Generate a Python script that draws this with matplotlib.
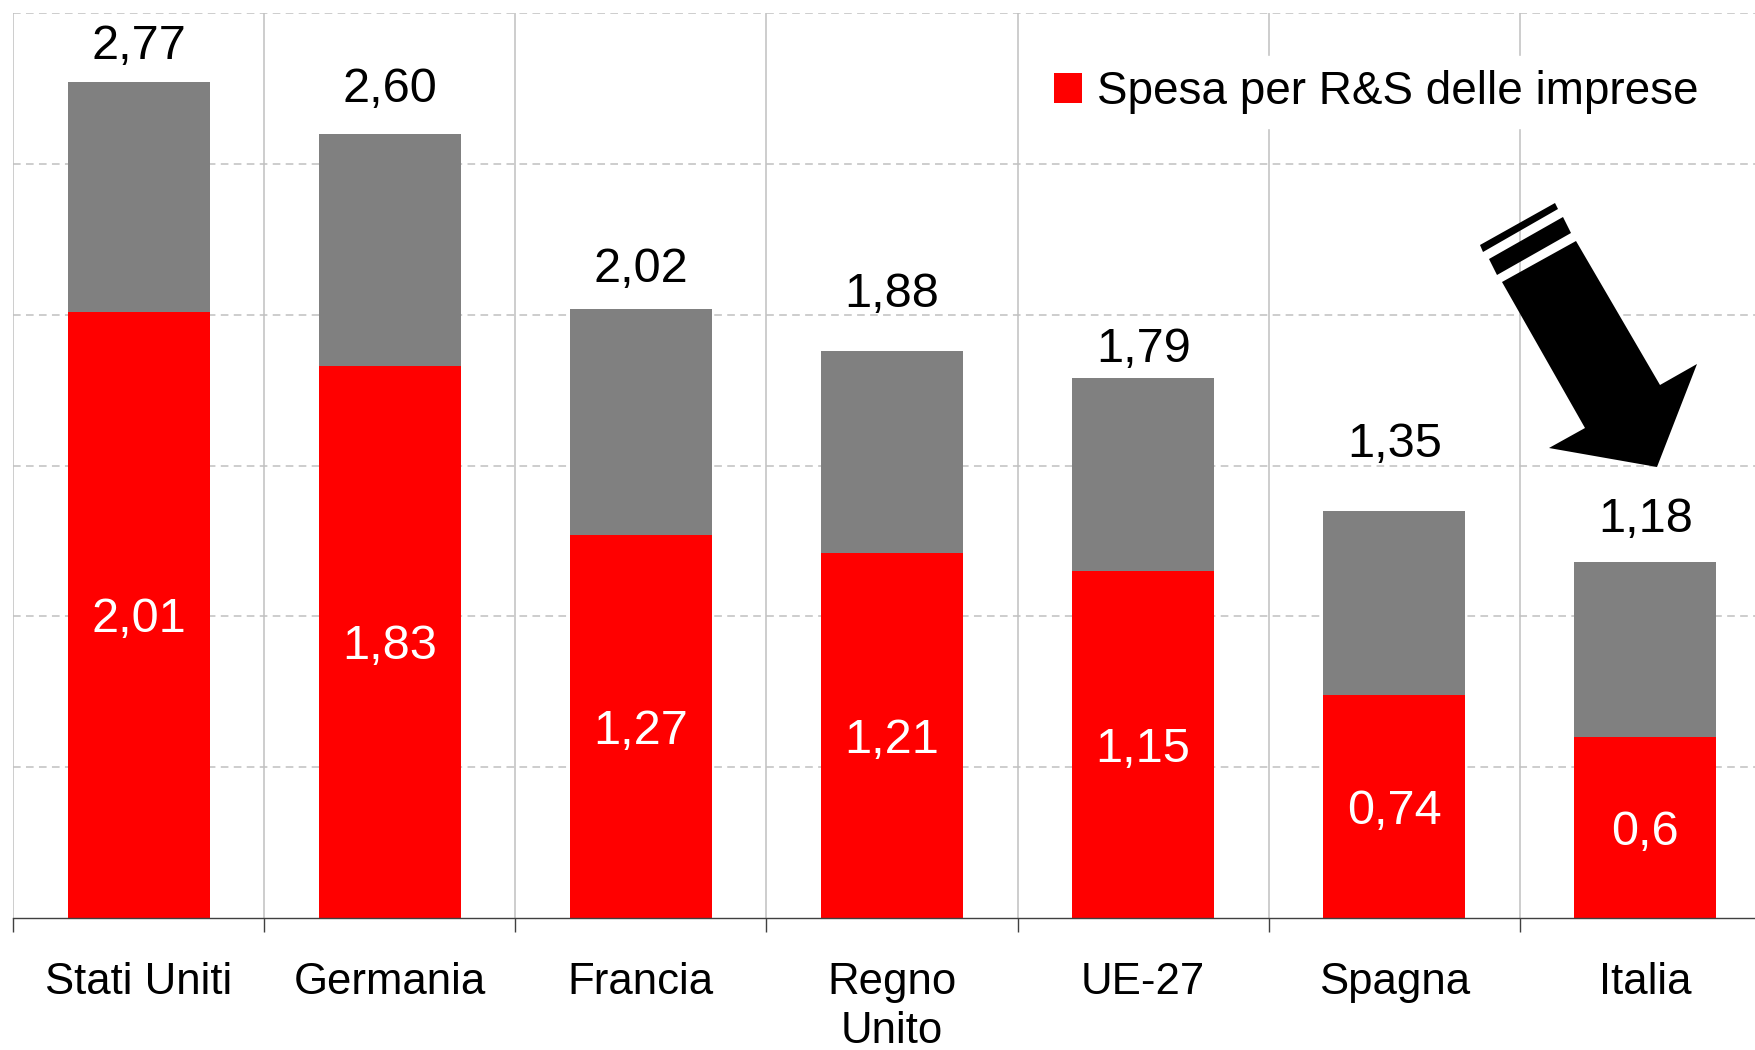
import numpy as np
import matplotlib
matplotlib.use("Agg")
import matplotlib.pyplot as plt
from matplotlib import transforms
from matplotlib.patches import Polygon

plt.rcParams['font.family'] = ['Liberation Sans', 'DejaVu Sans']

paesi = ['Stati Uniti', 'Germania', 'Francia', 'Regno\nUnito', 'UE-27', 'Spagna', 'Italia']
totale = [2.77, 2.60, 2.02, 1.88, 1.79, 1.35, 1.18]
imprese = [2.01, 1.83, 1.27, 1.21, 1.15, 0.74, 0.60]
lab_totale = ['2,77', '2,60', '2,02', '1,88', '1,79', '1,35', '1,18']
lab_imprese = ['2,01', '1,83', '1,27', '1,21', '1,15', '0,74', '0,6']

# how far above each bar the total label sits (layout only)
lift = [0.118, 0.147, 0.130, 0.188, 0.096, 0.220, 0.141]

W, H = 1756, 1050
fig = plt.figure(figsize=(W / 100, H / 100), dpi=100)
ax = fig.add_axes([13 / W, (H - 918) / H, 1758 / W, 905 / H])

x = np.arange(len(paesi))
altro = np.array(totale) - np.array(imprese)
ax.bar(x, imprese, width=0.565, color='#ff0000', label='Spesa per R&S delle imprese', zorder=2)
ax.bar(x, altro, bottom=imprese, width=0.565, color='#808080', zorder=2)

for i in range(len(paesi)):
    ax.text(x[i], totale[i] + lift[i], lab_totale[i], ha='center', va='center',
            fontsize=35, color='black', zorder=4)
    ax.text(x[i], imprese[i] / 2 - 0.016, lab_imprese[i], ha='center', va='center',
            fontsize=35, color='white', zorder=4)

ax.set_xlim(-0.5, 6.5)
ax.set_ylim(0, 3)
ax.set_yticks(np.arange(0.5, 3.01, 0.5))
ax.tick_params(axis='y', length=0, labelleft=False)
ax.yaxis.grid(True, linestyle=(0, (5, 3.5)), color='#c0c0c0', linewidth=1.1)

ax.set_xticks(x)
ax.set_xticklabels(paesi, fontsize=31.5, linespacing=1.25)
ax.set_xticks(np.arange(-0.5, 6.6, 1), minor=True)
ax.tick_params(axis='x', which='major', length=0, pad=32)
ax.tick_params(axis='x', which='minor', length=10, width=1, color='#404040', direction='out')
ax.xaxis.grid(True, which='minor', color='#c0c0c0', linewidth=1.1, linestyle='-')
ax.set_axisbelow(True)

for s in ['top', 'right', 'left']:
    ax.spines[s].set_visible(False)
ax.spines['bottom'].set_color('#404040')
ax.spines['bottom'].set_linewidth(1)

leg = ax.legend(loc='center left', bbox_to_anchor=(1040 / W, 1 - 92 / H),
                bbox_transform=fig.transFigure, fontsize=33, frameon=True,
                handlelength=0.62, handleheight=0.62, handletextpad=0.33,
                borderpad=0.3, borderaxespad=0, fancybox=False)
leg.get_frame().set_edgecolor('white')
leg.get_frame().set_facecolor('white')
leg.get_frame().set_alpha(1)
leg.set_zorder(5)

# block arrow pointing at Italia, in pixel coords of the image (y down)
px = transforms.Affine2D().scale(1 / W, -1 / H).translate(0, 1) + fig.transFigure
freccia = [(1502, 282), (1576, 241), (1660, 385), (1697, 364),
           (1657, 467), (1549, 448), (1585, 428)]
fig.patches.append(Polygon(freccia, closed=True, facecolor='black', edgecolor='none',
                           transform=px, zorder=6))
fig.patches.append(Polygon([(1489, 259), (1563, 217), (1571, 233), (1497, 275)],
                           closed=True, facecolor='black', edgecolor='none',
                           transform=px, zorder=6))
fig.patches.append(Polygon([(1480, 245), (1555, 203), (1558, 209), (1483, 252)],
                           closed=True, facecolor='black', edgecolor='none',
                           transform=px, zorder=6))

fig.savefig('out.png', dpi=100)
